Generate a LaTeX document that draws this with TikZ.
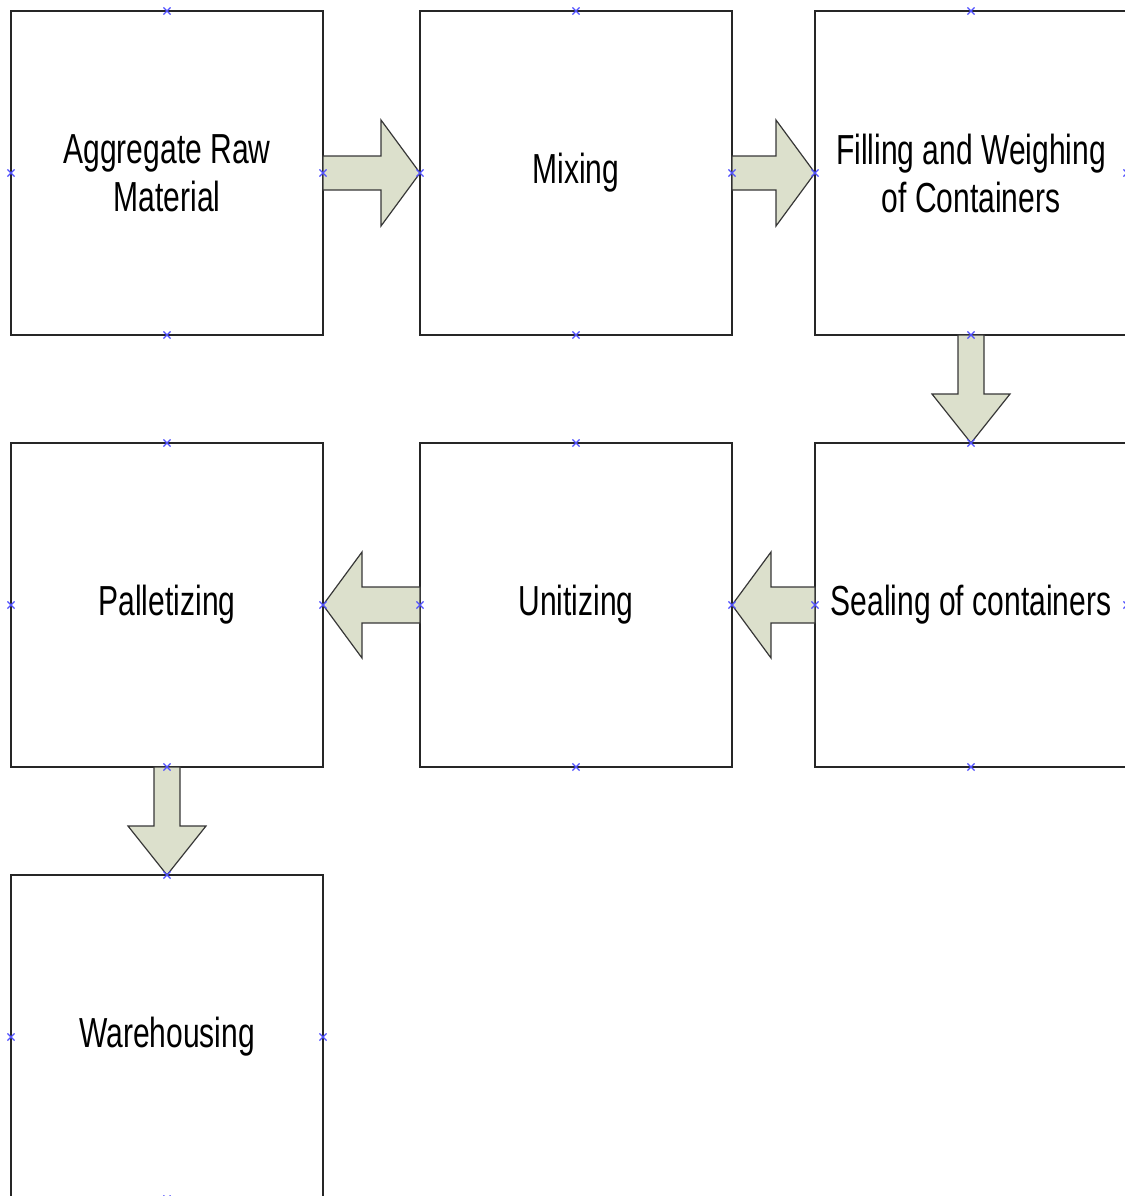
\documentclass[tikz,border=0pt]{standalone}
\usepackage{fontspec}
\setmainfont{Liberation Sans}
\newfontfamily\boxfont[FakeStretch=0.715]{Liberation Sans}
\usetikzlibrary{calc, shapes.misc}
\definecolor{arrowfill}{RGB}{220,224,204}
\definecolor{arrowline}{RGB}{55,55,55}
\definecolor{pointblue}{RGB}{80,80,255}

\tikzset{
  stage/.style={draw=black!85, line width=0.85pt, fill=white,
    minimum width=156pt, minimum height=162pt, inner sep=0pt, outer sep=0pt,
    align=center, font=\boxfont\fontsize{21}{24}\selectfont},
  flowarrow/.style={draw=arrowline, line width=0.6pt, fill=arrowfill, line join=miter},
  conpoint/.style={cross out, draw=pointblue, line width=0.55pt,
    minimum size=3.6pt, inner sep=0pt, outer sep=0pt}
}

% block arrows between stages
\newcommand{\rightflow}[2]{%
  \draw[flowarrow] ($(#1.east)+(0,-17)$) -- ($(#2.west)+(-39,-17)$)
    -- ($(#2.west)+(-39,-53)$) -- (#2.west) -- ($(#2.west)+(-39,53)$)
    -- ($(#2.west)+(-39,17)$) -- ($(#1.east)+(0,17)$) -- cycle;}
\newcommand{\leftflow}[2]{%
  \draw[flowarrow] ($(#1.west)+(0,-18)$) -- ($(#2.east)+(39,-18)$)
    -- ($(#2.east)+(39,-53)$) -- (#2.east) -- ($(#2.east)+(39,53)$)
    -- ($(#2.east)+(39,18)$) -- ($(#1.west)+(0,18)$) -- cycle;}
\newcommand{\downflow}[2]{%
  \draw[flowarrow] ($(#1.south)+(-13,0)$) -- ($(#2.north)+(-13,-49)$)
    -- ($(#2.north)+(-39,-49)$) -- (#2.north) -- ($(#2.north)+(39,-49)$)
    -- ($(#2.north)+(13,-49)$) -- ($(#1.south)+(13,0)$) -- cycle;}
% connection points on the four sides
\newcommand{\connpts}[1]{%
  \foreach \side in {north,south,east,west} \node[conpoint] at (#1.\side) {};}

\begin{document}
\begin{tikzpicture}[x=0.5pt, y=-0.5pt]
  \useasboundingbox (0,0) rectangle (1125,1196);
  % row 1
  \node[stage] (agg) at (167,173) {Aggregate Raw\\Material};
  \node[stage] (mix) at (576,173) {Mixing};
  \node[stage] (filling) at (971,173) {Filling and Weighing\\of Containers};
  % row 2
  \node[stage] (seal) at (971,605) {Sealing of containers};
  \node[stage] (unit) at (576,605) {Unitizing};
  \node[stage] (pallet) at (167,605) {Palletizing};
  % row 3
  \node[stage] (ware) at (167,1037) {Warehousing};

  \rightflow{agg}{mix}
  \rightflow{mix}{filling}
  \downflow{filling}{seal}
  \leftflow{seal}{unit}
  \leftflow{unit}{pallet}
  \downflow{pallet}{ware}

  \foreach \n in {agg,mix,filling,seal,unit,pallet,ware} {\connpts{\n}}
\end{tikzpicture}
\end{document}
